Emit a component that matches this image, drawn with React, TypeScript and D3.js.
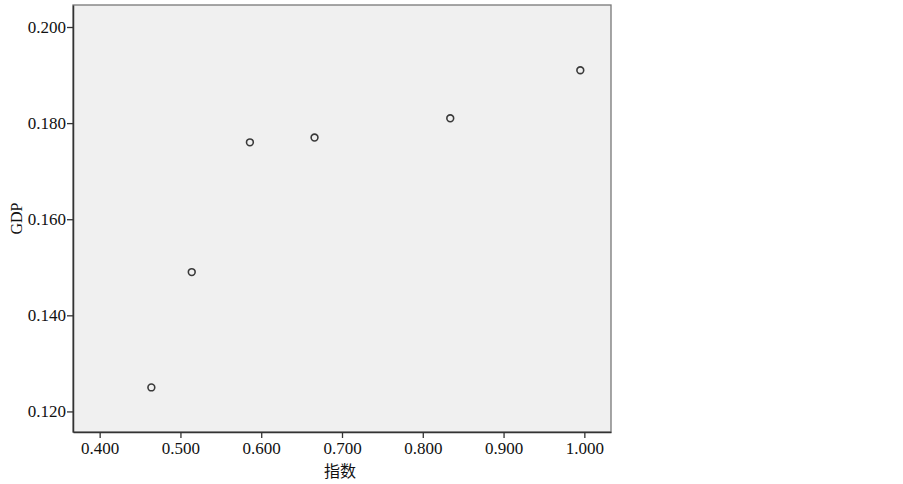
import { useRef, useEffect } from "react";
import * as d3 from "d3";

// data
const indexValues = [0.464, 0.514, 0.586, 0.666, 0.834, 0.995];
const gdpValues = [0.125, 0.149, 0.176, 0.177, 0.181, 0.191];
const xTicks = [0.4, 0.5, 0.6, 0.7, 0.8, 0.9, 1.0];
const yTicks = [0.12, 0.14, 0.16, 0.18, 0.2];
const xTitle = "指数";
const yTitle = "GDP";

const SERIF = "'Liberation Serif', 'Times New Roman', 'DejaVu Serif', serif";

export default function App() {
  const svgRef = useRef<SVGSVGElement>(null);

  useEffect(() => {
    const width = 903;
    const height = 484;
    const MARGIN = { top: 5, right: 292, bottom: 52, left: 73 };
    const boundsWidth = width - MARGIN.left - MARGIN.right;
    const boundsHeight = height - MARGIN.top - MARGIN.bottom;

    const svg = d3.select(svgRef.current);
    svg.selectAll("*").remove();
    svg.attr("width", width).attr("height", height);

    const xScale = d3.scaleLinear().domain([0.367, 1.033]).range([0, boundsWidth]);
    const yScale = d3.scaleLinear().domain([0.11572, 0.20458]).range([boundsHeight, 0]);

    const g = svg.append("g").attr("transform", `translate(${MARGIN.left},${MARGIN.top})`);

    // plot background
    g.append("rect")
      .attr("width", boundsWidth)
      .attr("height", boundsHeight)
      .attr("fill", "#f0f0f0")
      .attr("stroke", "#777")
      .attr("stroke-width", 1.3);

    const fmt = d3.format(".3f");

    const xAxis = d3.axisBottom(xScale).tickValues(xTicks).tickFormat((d) => fmt(d as number))
      .tickSizeInner(6).tickSizeOuter(0).tickPadding(4);
    const yAxis = d3.axisLeft(yScale).tickValues(yTicks).tickFormat((d) => fmt(d as number))
      .tickSizeInner(6).tickSizeOuter(0).tickPadding(1);

    const gx = g.append("g").attr("transform", `translate(0,${boundsHeight})`).call(xAxis);
    const gy = g.append("g").call(yAxis);

    [gx, gy].forEach((ax) => {
      ax.attr("font-family", SERIF).attr("font-size", 17);
      ax.select(".domain").attr("stroke", "#333").attr("stroke-width", 1.5);
      ax.selectAll(".tick line").attr("stroke", "#333").attr("stroke-width", 1.3);
      ax.selectAll(".tick text").attr("fill", "#111").style("font-family", SERIF);
    });

    // points
    g.selectAll(".pt")
      .data(indexValues.map((x, i) => ({ x, y: gdpValues[i] })))
      .join("circle")
      .attr("cx", (d) => xScale(d.x))
      .attr("cy", (d) => yScale(d.y))
      .attr("r", 3.4)
      .attr("fill", "none")
      .attr("stroke", "#3a3a3a")
      .attr("stroke-width", 1.6);

    // titles
    svg.append("text")
      .attr("x", MARGIN.left + boundsWidth / 2 - 2)
      .attr("y", 477)
      .attr("text-anchor", "middle")
      .attr("fill", "#111")
      .attr("font-family", "'Noto Sans CJK SC', sans-serif")
      .attr("font-size", 16)
      .text(xTitle);

    svg.append("text")
      .attr("transform", `translate(22,${MARGIN.top + boundsHeight / 2}) rotate(-90)`)
      .attr("text-anchor", "middle")
      .attr("fill", "#111")
      .attr("font-family", SERIF)
      .attr("font-size", 16)
      .text(yTitle);
  }, []);

  return (
    <div style={{ position: "absolute", left: 0, top: 0, background: "#fff" }}>
      <svg ref={svgRef}></svg>
    </div>
  );
}
